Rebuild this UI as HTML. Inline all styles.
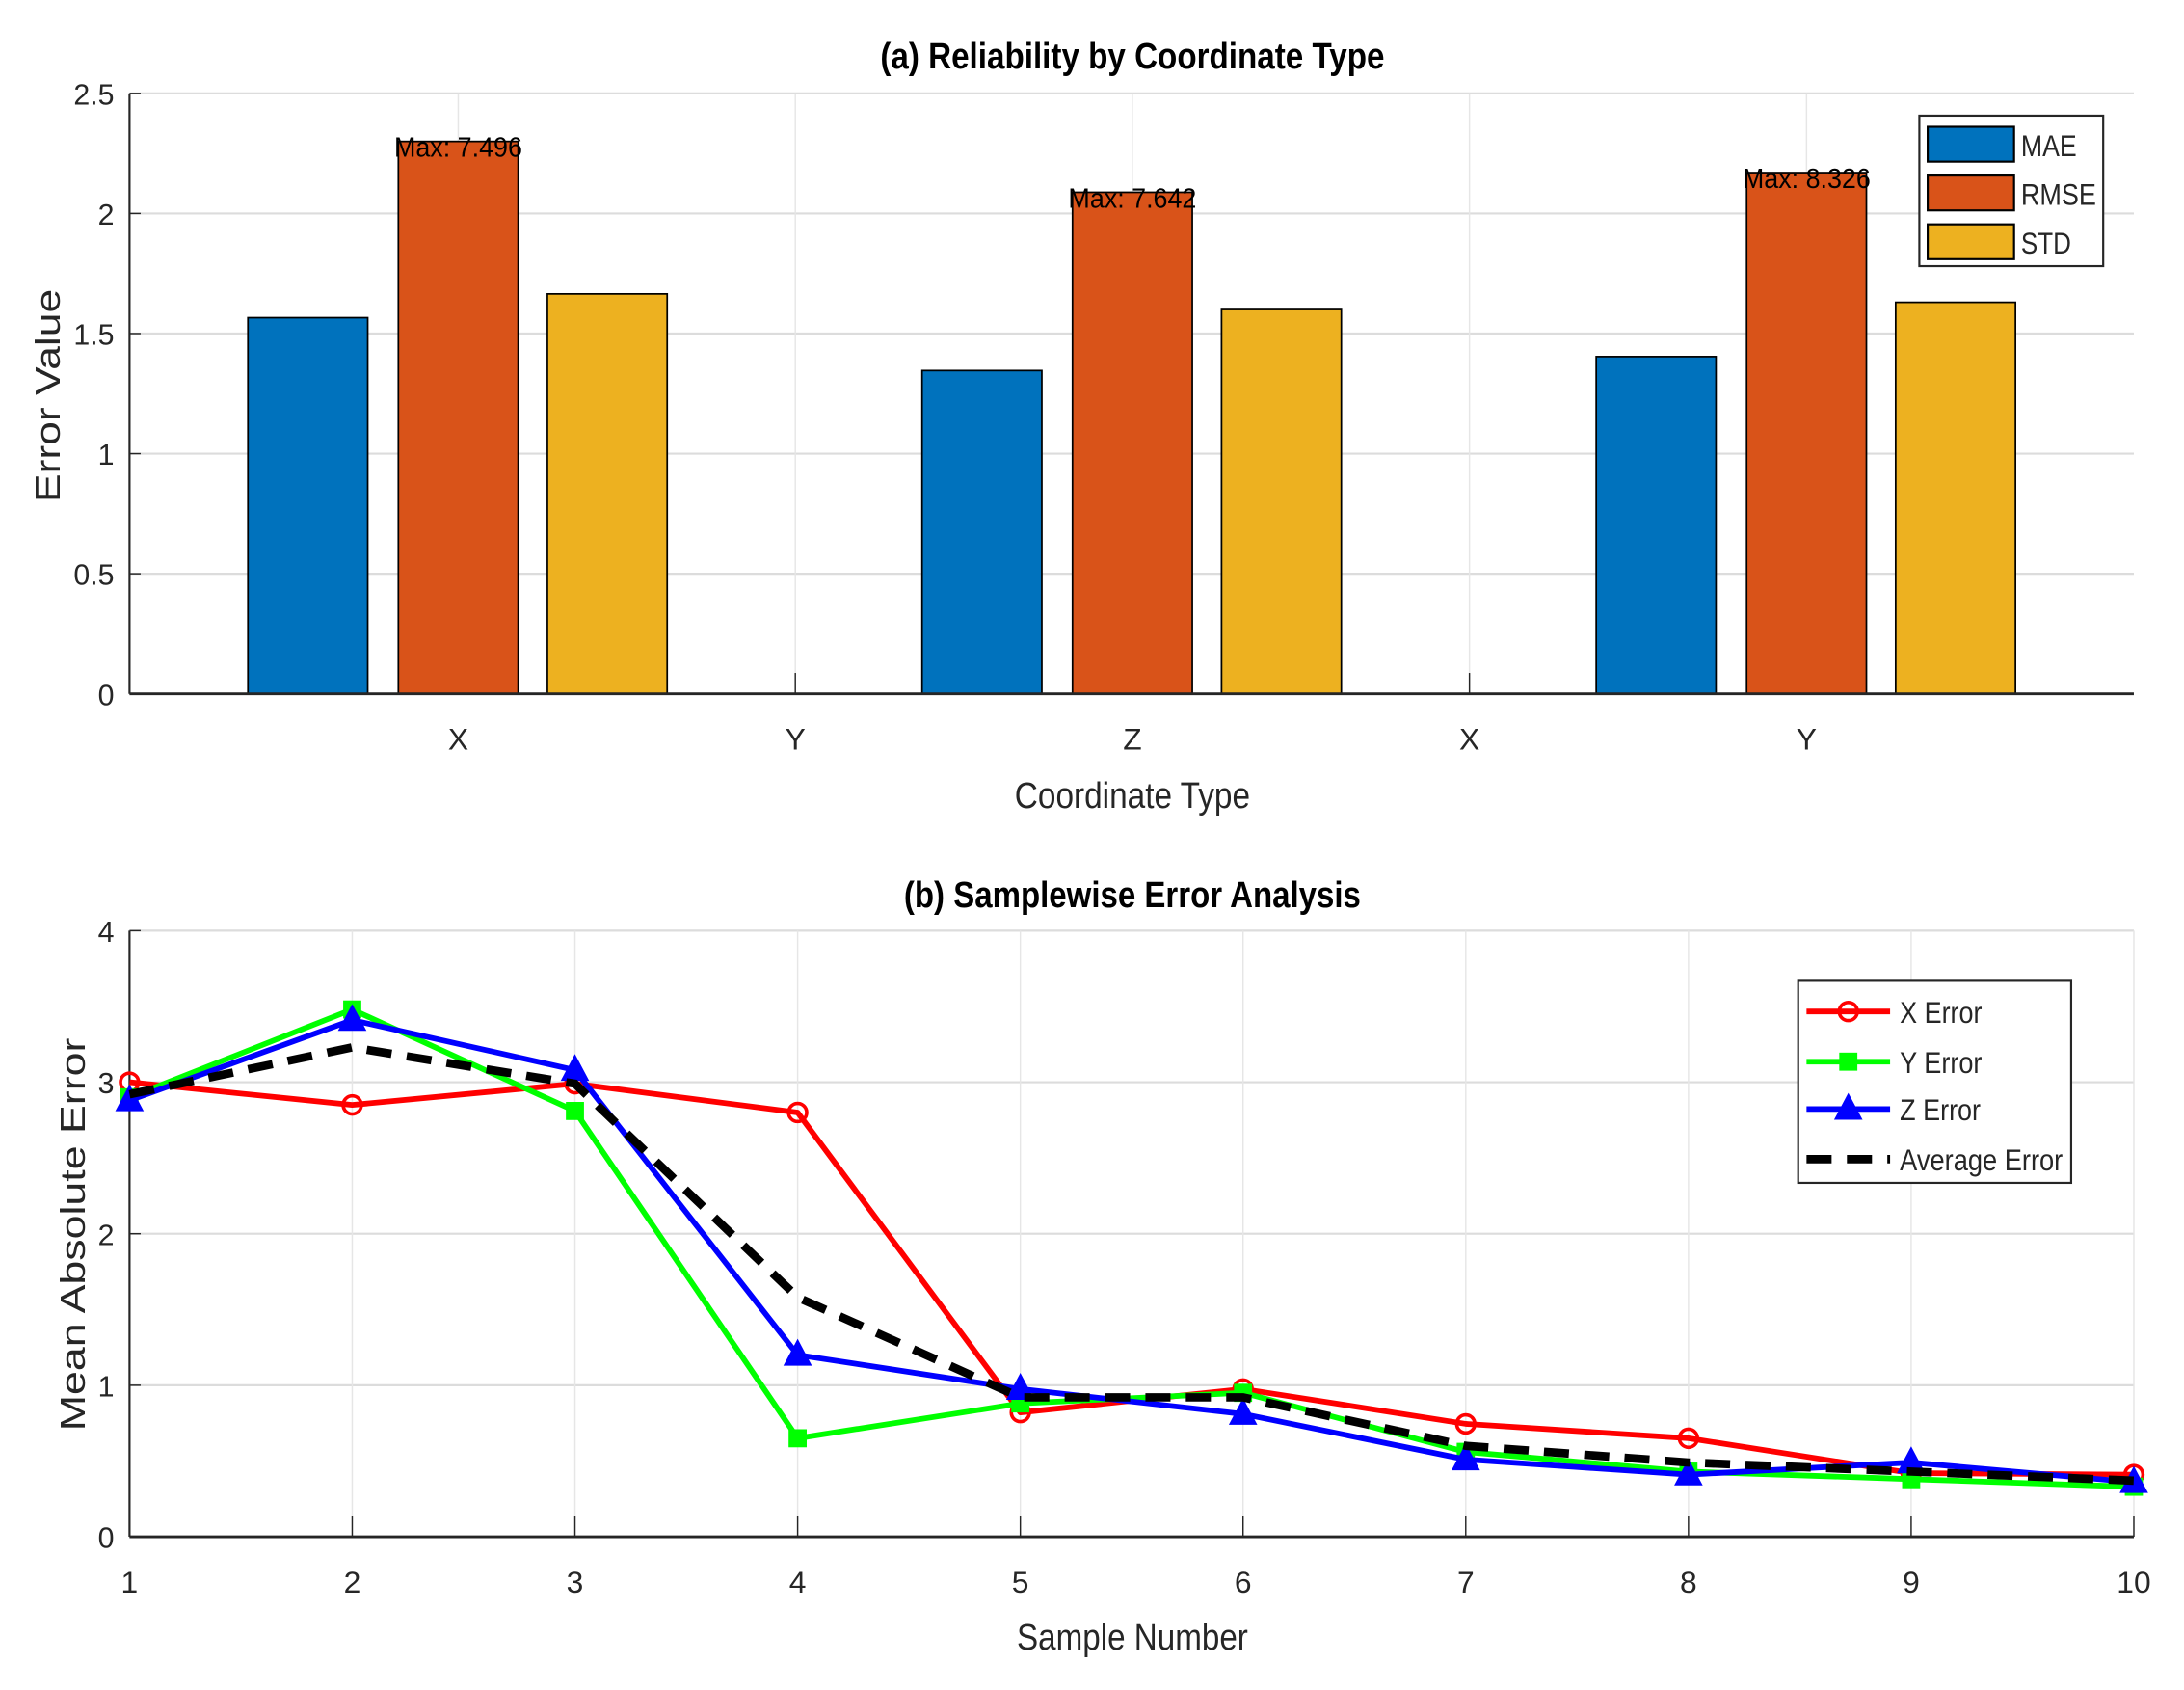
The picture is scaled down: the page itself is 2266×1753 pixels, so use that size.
<!DOCTYPE html>
<html><head><meta charset="utf-8"><style>
html,body{margin:0;padding:0;background:#fff}
svg{display:block}
text{font-family:"Liberation Sans",Arial,sans-serif;fill:#262626}
</style></head><body>
<svg id="fig" width="2266" height="1753" viewBox="0 0 1568 1213" preserveAspectRatio="none" xmlns="http://www.w3.org/2000/svg">
<rect width="1568" height="1213" fill="#fff"/>
<g id="top"></g>
<g id="bot"></g>
</svg>
<script>
// ---- Panel (a) data ----
const catLabels = ["X","Y","Z","X","Y"];
const groupPos = [1,3,5];
const maeVals = [1.566,1.346,1.404];
const rmseVals = [2.30,2.088,2.17];
const stdVals = [1.665,1.60,1.63];
const maxLabels = ["Max: 7.496","Max: 7.642","Max: 8.326"];
const yTicksA = [0,0.5,1,1.5,2,2.5];
// ---- Panel (b) data ----
const samples = [1,2,3,4,5,6,7,8,9,10];
const xErr = [3.0,2.85,2.99,2.80,0.82,0.975,0.745,0.65,0.42,0.41];
const yErr = [2.9,3.48,2.81,0.65,0.88,0.95,0.56,0.43,0.38,0.33];
const zErr = [2.88,3.41,3.08,1.20,0.975,0.81,0.51,0.41,0.49,0.36];
const avgErr = [2.92,3.23,2.99,1.58,0.92,0.92,0.60,0.49,0.43,0.37];
const yTicksB = [0,1,2,3,4];

const NS="http://www.w3.org/2000/svg";
function mk(parent,tag,attrs,txt){const e=document.createElementNS(NS,tag);for(const k in attrs)e.setAttribute(k,attrs[k]);if(txt!==undefined)e.textContent=txt;parent.appendChild(e);return e;}

// ===== Panel (a) =====
const A=document.getElementById('top');
const axL=93,axR=1532;
const ayA=v=>498-v*172.4;
const axA=i=>329+(i-1)*242;
yTicksA.forEach(v=>{
  const g=mk(A,'line',{x1:axL,x2:axR,y1:ayA(v),y2:ayA(v),stroke:'#dcdcdc','stroke-width':1.5});
  
  
  const t=mk(A,'text',{x:82,y:ayA(v)+8,'text-anchor':'end','font-size':21},String(v));
  
  
  mk(A,'line',{x1:axL,x2:axL+8,y1:ayA(v),y2:ayA(v),stroke:'#262626','stroke-width':1});
});
catLabels.forEach((c,i)=>{
  const x=axA(i+1);
  mk(A,'line',{x1:x,x2:x,y1:67,y2:498,stroke:'#e6e6e6','stroke-width':1});
  mk(A,'line',{x1:x,x2:x,y1:483,y2:498,stroke:'#262626','stroke-width':1});
  const t=mk(A,'text',{x:x,y:538,'text-anchor':'middle','font-size':22},c);
  
  
});
const series=[[maeVals,'#0072BD',-108,'bar-mae'],[rmseVals,'#D95319',0,'bar-rmse'],[stdVals,'#EDB120',107,'bar-std']];
groupPos.forEach((p,gi)=>{
  series.forEach(s=>{
    const v=s[0][gi];const cx=axA(p)+s[2];
    const r=mk(A,'rect',{x:cx-43,y:ayA(v),width:86,height:ayA(0)-ayA(v),fill:s[1],stroke:'#000','stroke-width':1.2});
    
    
  });
  const t=mk(A,'text',{x:axA(p),y:ayA(rmseVals[gi])+11,'text-anchor':'middle','font-size':20,textLength:92,lengthAdjust:'spacingAndGlyphs',style:'fill:#000'},maxLabels[gi]);
  
  
});
mk(A,'line',{x1:axL,x2:axR,y1:498,y2:498,stroke:'#262626','stroke-width':2});
mk(A,'line',{x1:axL,x2:axL,y1:67,y2:498,stroke:'#262626','stroke-width':1.5});
let t;
t=mk(A,'text',{x:813,y:49,'text-anchor':'middle','font-size':26,'font-weight':'bold',textLength:362,lengthAdjust:'spacingAndGlyphs',style:'fill:#000'},'(a) Reliability by Coordinate Type');

t=mk(A,'text',{x:813,y:580,'text-anchor':'middle','font-size':26,textLength:169,lengthAdjust:'spacingAndGlyphs'},'Coordinate Type');

t=mk(A,'text',{x:0,y:0,'text-anchor':'middle','font-size':25,textLength:153,lengthAdjust:'spacingAndGlyphs',transform:'translate(43,284) rotate(-90)'},'Error Value');

const lgA=mk(A,'g',{});

mk(lgA,'rect',{x:1378,y:83,width:132,height:108,fill:'#fff',stroke:'#262626','stroke-width':1.5});
[['MAE','#0072BD',91,40],['RMSE','#D95319',126,54],['STD','#EDB120',161,36]].forEach(e=>{
  const g=mk(lgA,'g',{});
  
  
  mk(g,'rect',{x:1384,y:e[2],width:62,height:25,fill:e[1],stroke:'#000','stroke-width':1.5});
  mk(g,'text',{x:1451,y:e[2]+21,'font-size':22,textLength:e[3],lengthAdjust:'spacingAndGlyphs'},e[0]);
});

// ===== Panel (b) =====
const B=document.getElementById('bot');
const ayB=v=>1103-v*108.75;
const axB=s=>93+(s-1)*159.89;
yTicksB.forEach(v=>{
  mk(B,'line',{x1:axL,x2:axR,y1:ayB(v),y2:ayB(v),stroke:'#dcdcdc','stroke-width':1.5});
  mk(B,'line',{x1:axL,x2:axL+8,y1:ayB(v),y2:ayB(v),stroke:'#262626','stroke-width':1});
  const tt=mk(B,'text',{x:82,y:ayB(v)+8,'text-anchor':'end','font-size':21},String(v));
  
  
});
samples.forEach(s=>{
  const x=axB(s);
  mk(B,'line',{x1:x,x2:x,y1:668,y2:1103,stroke:'#e6e6e6','stroke-width':1});
  mk(B,'line',{x1:x,x2:x,y1:1088,y2:1103,stroke:'#262626','stroke-width':1});
  const tt=mk(B,'text',{x:x,y:1143,'text-anchor':'middle','font-size':22},String(s));
  
  
});
mk(B,'line',{x1:axL,x2:axR,y1:1103,y2:1103,stroke:'#262626','stroke-width':2});
mk(B,'line',{x1:axL,x2:axL,y1:668,y2:1103,stroke:'#262626','stroke-width':1.5});
function pts(arr){return arr.map((v,i)=>axB(samples[i])+','+ayB(v)).join(' ');}
function marker(g,type,x,y,col){
  if(type==='o')mk(g,'circle',{cx:x,cy:y,r:6.5,fill:'none',stroke:col,'stroke-width':2.5});
  else if(type==='s')mk(g,'rect',{x:x-6,y:y-6,width:12,height:12,fill:col,stroke:col,'stroke-width':1});
  else if(type==='^')mk(g,'polygon',{points:`${x},${y-10} ${x-9},${y+7} ${x+9},${y+7}`,fill:col,stroke:col,'stroke-width':1.5});
}
const lineDefs=[[xErr,'#FF0000','o','line-x-error'],[yErr,'#00FF00','s','line-y-error'],[zErr,'#0000FF','^','line-z-error']];
lineDefs.forEach(d=>{
  const g=mk(B,'g',{});
  
  
  mk(g,'polyline',{points:pts(d[0]),fill:'none',stroke:d[1],'stroke-width':4,'stroke-linejoin':'round'});
  d[0].forEach((v,i)=>marker(g,d[2],axB(samples[i]),ayB(v),d[1]));
});
const ga=mk(B,'g',{});


mk(ga,'polyline',{points:pts(avgErr),fill:'none',stroke:'#000','stroke-width':6,'stroke-dasharray':'18,11'});
t=mk(B,'text',{x:813,y:651,'text-anchor':'middle','font-size':26,'font-weight':'bold',textLength:328,lengthAdjust:'spacingAndGlyphs',style:'fill:#000'},'(b) Samplewise Error Analysis');

t=mk(B,'text',{x:813,y:1184,'text-anchor':'middle','font-size':26,textLength:166,lengthAdjust:'spacingAndGlyphs'},'Sample Number');

t=mk(B,'text',{x:0,y:0,'text-anchor':'middle','font-size':25,textLength:282,lengthAdjust:'spacingAndGlyphs',transform:'translate(61,886) rotate(-90)'},'Mean Absolute Error');

const lgB=mk(B,'g',{});

mk(lgB,'rect',{x:1291,y:704,width:196,height:145,fill:'#fff',stroke:'#262626','stroke-width':1.5});
[['X Error','#FF0000','o',726,59],['Y Error','#00FF00','s',762,59],['Z Error','#0000FF','^',796,58],['Average Error','#000','d',832,117]].forEach(e=>{
  const g=mk(lgB,'g',{});
  
  
  if(e[2]==='d') mk(g,'line',{x1:1297,x2:1357,y1:e[3],y2:e[3],stroke:'#000','stroke-width':6,'stroke-dasharray':'18,11'});
  else {mk(g,'line',{x1:1297,x2:1357,y1:e[3],y2:e[3],stroke:e[1],'stroke-width':4});marker(g,e[2],1327,e[3],e[1]);}
  mk(g,'text',{x:1364,y:e[3]+8,'font-size':22,textLength:e[4],lengthAdjust:'spacingAndGlyphs'},e[0]);
});
</script>
</body></html>
